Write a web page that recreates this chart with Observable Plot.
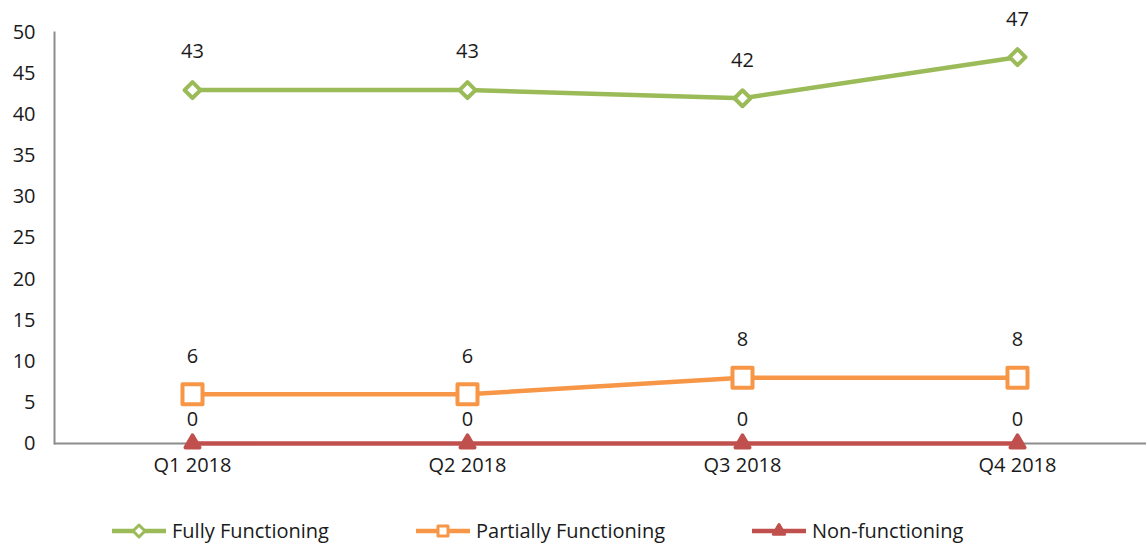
<!DOCTYPE html>
<html>
<head>
<meta charset="utf-8">
<script src="https://cdn.jsdelivr.net/npm/d3@7"></script>
<script src="https://cdn.jsdelivr.net/npm/@observablehq/plot@0.6"></script>
<style>
  html, body { margin: 0; padding: 0; background: #fff; }
  body { font-family: "Open Sans", "Noto Sans", sans-serif; color: #1a1a1a; }
  #legend { height: 56px; position: relative; }
  .item { position: absolute; display: flex; align-items: center; font-size: 20px; top: 27px; }
  .item svg { margin-right: 6px; }
</style>
</head>
<body>
<div id="chart"></div>
<div id="legend"></div>
<script>
const quarters = ["Q1 2018", "Q2 2018", "Q3 2018", "Q4 2018"];
const fully = [43, 43, 42, 47];
const partially = [6, 6, 8, 8];
const nonFunctioning = [0, 0, 0, 0];
const yTicks = [0, 5, 10, 15, 20, 25, 30, 35, 40, 45, 50];

const seriesDefs = [
  {name: "Fully Functioning", values: fully, color: "#9BBB59", symbol: "diamond2", r: 7.2, fill: "#fff", dy: -38},
  {name: "Partially Functioning", values: partially, color: "#F79646", symbol: "square", r: 11.3, fill: "#fff", dy: -38},
  {name: "Non-functioning", values: nonFunctioning, color: "#C0504D", symbol: "triangle", r: 5.2, fill: "#C0504D", dy: -24}
];

const rows = seriesDefs.flatMap(s => quarters.map((q, i) => ({series: s.name, quarter: q, value: s.values[i]})));

const marks = [
  // y axis line along the left edge of the frame
  Plot.frame({anchor: "left", stroke: "#8c8c8c", strokeWidth: 2}),
  Plot.axisY({ticks: yTicks, tickSize: 0, tickPadding: 19, fontSize: 20, label: null, color: "#1a1a1a"}),
  Plot.axisX({tickSize: 0, tickPadding: 14, fontSize: 20, label: null, color: "#1a1a1a"}),
  Plot.ruleY([0], {stroke: "#8c8c8c", strokeWidth: 2})
];

for (const s of seriesDefs) {
  const data = rows.filter(d => d.series === s.name);
  marks.push(Plot.line(data, {x: "quarter", y: "value", stroke: s.color, strokeWidth: 4.5}));
  marks.push(Plot.dot(data, {x: "quarter", y: "value", symbol: () => s.symbol, r: s.r, stroke: s.color, fill: s.fill, strokeWidth: 4, strokeLinejoin: "round"}));
  marks.push(Plot.text(data, {x: "quarter", y: "value", text: d => String(d.value), dy: s.dy, fontSize: 20, fill: "#1a1a1a"}));
}

const chart = Plot.plot({
  width: 1147,
  height: 490,
  marginLeft: 54,
  marginRight: 1,
  marginTop: 32,
  marginBottom: 47,
  style: {fontFamily: "'Open Sans', 'Noto Sans', sans-serif", fontSize: "20px", color: "#1a1a1a", background: "#fff"},
  x: {type: "point", domain: quarters, range: [191, 1017], padding: 0},
  y: {domain: [0, 50]},
  symbol: {type: "identity"},
  marks
});
document.getElementById("chart").appendChild(chart);

// Legend below the plot
const legend = document.getElementById("legend");
const legendX = [112, 416, 752];
seriesDefs.forEach((s, i) => {
  const item = document.createElement("div");
  item.className = "item";
  item.style.left = legendX[i] + "px";
  const svg = d3.create("svg").attr("width", 54).attr("height", 24);
  svg.append("line").attr("x1", 0).attr("x2", 54).attr("y1", 12).attr("y2", 12)
    .attr("stroke", s.color).attr("stroke-width", 4.5);
  const sizes = {diamond2: 90, square: 100, triangle: 55};
  const sym = {diamond2: d3.symbolDiamond2, square: d3.symbolSquare, triangle: d3.symbolTriangle}[s.symbol];
  svg.append("path").attr("d", d3.symbol(sym, sizes[s.symbol])())
    .attr("transform", "translate(27,12)")
    .attr("fill", s.fill).attr("stroke", s.color).attr("stroke-width", 3).attr("stroke-linejoin", "round");
  item.appendChild(svg.node());
  const label = document.createElement("span");
  label.textContent = s.name;
  item.appendChild(label);
  legend.appendChild(item);
});
</script>
</body>
</html>
